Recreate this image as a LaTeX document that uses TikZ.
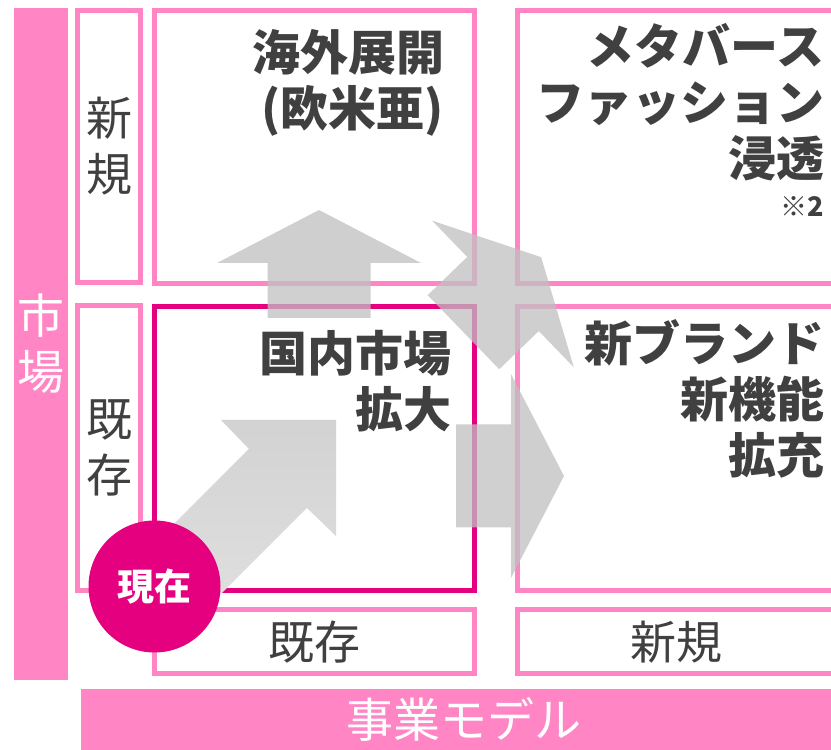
\documentclass[tikz,border=0pt]{standalone}
\usepackage{fontspec}
\setmainfont{Noto Sans CJK JP}
\usetikzlibrary{positioning}
\definecolor{sakura}{RGB}{255,133,197}
\definecolor{deeppink}{RGB}{228,0,127}
\definecolor{inkgray}{RGB}{64,64,64}
\definecolor{arrowgray}{RGB}{192,192,192}

\begin{document}
\begin{tikzpicture}[x=1pt,y=1pt,inner sep=0pt,outer sep=0pt]
\tikzset{bar/.style={fill=sakura,text=white,align=center,font=\fontsize{47}{56}\selectfont}}
\tikzset{box/.style={draw=sakura,line width=5pt,fill=white,text=inkgray,align=center,font=\fontsize{46}{56}\selectfont}}
\tikzset{hotbox/.style={box,draw=deeppink}}
\tikzset{quadtext/.style={text=inkgray,align=right,anchor=north east,font=\fontsize{48}{56}\selectfont\bfseries}}
\tikzset{nowdot/.style={circle,fill=deeppink,text=white,font=\fontsize{37}{40}\selectfont\bfseries}}
\tikzset{blockarrow/.pic={
  \fill[arrowgray,fill opacity=.75] (-51.5,-55) -- (-51.5,0) -- (-102,0) -- (0,53)
    -- (102,0) -- (51.5,0) -- (51.5,-55) -- cycle;}}

\useasboundingbox (0,0) rectangle (831,750);
\clip (0,0) rectangle (831,750);

% axis bars
\node[bar,minimum width=54,minimum height=672] (market) at (41,406) {市\\場};
\node[bar,minimum width=766,minimum height=61,anchor=south west] (model) at (81,0) {事業モデル};

% row and column labels
\node[box,minimum width=63,minimum height=272] (rownew) at (109,603.5) {新\\規};
\node[box,minimum width=63,minimum height=285] (rowold) at (109,302) {既\\存};
\node[box,minimum width=319.5,minimum height=64.5] (colold) at (314.25,108.25) {既存};
\node[box,minimum width=318,minimum height=64.5] (colnew) at (676,108.25) {新規};

% quadrants
\node[box,minimum width=319.5,minimum height=273] (overseas) at (314.25,603) {};
\node[box,minimum width=318,minimum height=273] (metaverse) at (676,603) {};
\node[hotbox,minimum width=319.5,minimum height=283.5] (domestic) at (314.25,301.25) {};
\node[box,minimum width=318,minimum height=283.5] (brand) at (676,301.25) {};

\node[quadtext] (overseastext) at ([shift={(-30,-19)}]overseas.north east) {海外展開\\(欧米亜)};
\node[quadtext] (metaversetext) at (824,727) {メタバース\\ファッション\\浸透};
\node[quadtext,font=\fontsize{27}{30}\selectfont\bfseries] (note) at (824,553) {※2};
\node[quadtext] (domestictext) at ([shift={(-23,-23)}]domestic.north east) {国内市場\\拡大};
\node[quadtext] (brandtext) at (824,430) {新ブランド\\新機能\\拡充};

% growth arrows
\pic at (319,487) {blockarrow};
\pic[rotate=-46] at (503,456) {blockarrow};
\pic[rotate=-90] at (511,274) {blockarrow};
\shade[top color=gray!35,middle color=gray!55,bottom color=gray!25]
  (249,301) -- (221,330) -- (336,330) -- (336,214) -- (307,242) -- (208,143) -- (150,202) -- cycle;

% starting point
\node[nowdot,minimum size=132] (now) at (154.5,163.5) {現在};
\end{tikzpicture}
\end{document}
